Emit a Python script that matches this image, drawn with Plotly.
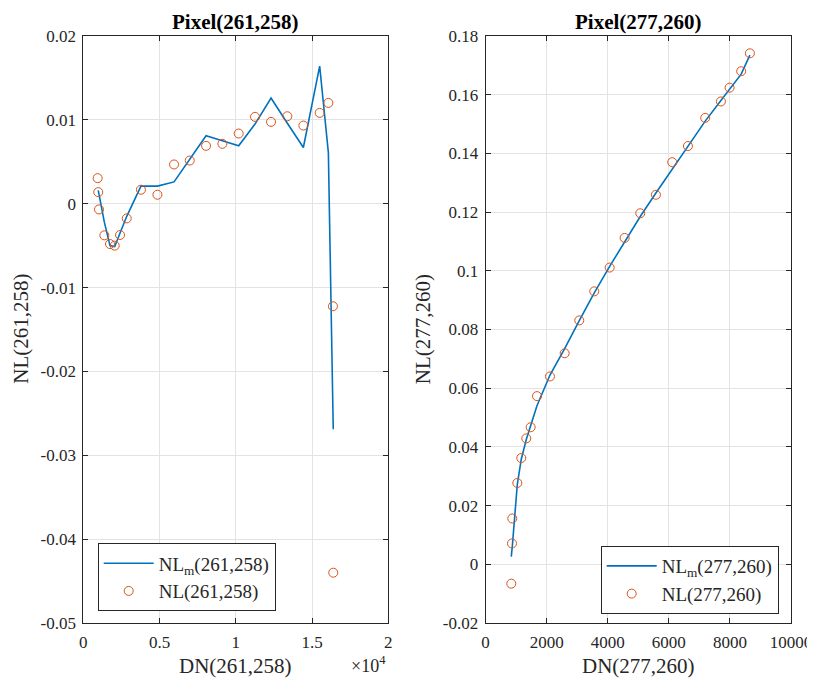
import plotly.graph_objects as go

# ---------------- data ----------------
# Left panel: Pixel(261,258)
dn_left_nl = [940, 980, 1030, 1380, 1750, 2060, 2410, 2850, 3780, 4860, 5950, 6980,
              8050, 9120, 10190, 11260, 12310, 13380, 14430, 15500, 16070, 16370, 16390]
nl_left = [0.00305, 0.00138, -0.00068, -0.00377, -0.00481, -0.0050, -0.00373, -0.00175,
           0.00167, 0.00107, 0.00468, 0.00515, 0.0069, 0.00714, 0.00837, 0.01036,
           0.00976, 0.01043, 0.00932, 0.01083, 0.01202, -0.01223, -0.0440]
dn_left_m = [980, 1380, 1750, 2060, 2410, 2850, 3780, 4860, 5950, 6980, 8050, 9120,
             10190, 11260, 12310, 13380, 14430, 15500, 16070, 16390]
nlm_left = [0.0016, -0.0022, -0.0050, -0.0051, -0.0035, -0.0015, 0.0021, 0.0021,
            0.0026, 0.0053, 0.0081, 0.0075, 0.0069, 0.0095, 0.0126, 0.0096, 0.0067,
            0.0164, 0.0061, -0.0269]

# Right panel: Pixel(277,260)
dn_right = [841, 864, 874, 1038, 1168, 1332, 1476, 1682, 2108, 2589, 3067, 3558, 4062,
            4553, 5064, 5577, 6111, 6625, 7191, 7705, 7989, 8369, 8654]
nl_right = [-0.0066, 0.0071, 0.0156, 0.0277, 0.0362, 0.0429, 0.0467, 0.0573, 0.0640,
            0.0719, 0.0831, 0.0930, 0.1011, 0.1112, 0.1196, 0.1259, 0.1370, 0.1425,
            0.1521, 0.1577, 0.1624, 0.1680, 0.1741]
nlm_right = [0.0026, 0.0050, 0.0060, 0.0272, 0.0358, 0.0425, 0.0470, 0.0540, 0.0645,
             0.0735, 0.0830, 0.0925, 0.1015, 0.1100, 0.1185, 0.1265, 0.1345, 0.1425,
             0.1510, 0.1580, 0.1620, 0.1670, 0.1735]

# tick labels
left_xticks = [0, 5000, 10000, 15000, 20000]
left_xticktext = ["0", "0.5", "1", "1.5", "2"]
left_yticks = [0.02, 0.01, 0, -0.01, -0.02, -0.03, -0.04, -0.05]
left_yticktext = ["0.02", "0.01", "0", "-0.01", "-0.02", "-0.03", "-0.04", "-0.05"]
right_xticks = [0, 2000, 4000, 6000, 8000, 10000]
right_xticktext = ["0", "2000", "4000", "6000", "8000", "10000"]
right_yticks = [-0.02, 0, 0.02, 0.04, 0.06, 0.08, 0.1, 0.12, 0.14, 0.16, 0.18]
right_yticktext = ["-0.02", "0", "0.02", "0.04", "0.06", "0.08", "0.1", "0.12", "0.14", "0.16", "0.18"]

# ---------------- style ----------------
FONT = "Liberation Serif"
AX = "#262626"
GRID = "#e3e3e3"
BLUE = "#0072BD"
ORANGE = "#D95319"
OFF = 8                      # page body margin
W, H = 815 - OFF, 678 - OFF
MT = 35.5 - OFF
MB = H - (623 - OFF)
PH = H - MT - MB


def px(x):                    # reference-screen x -> paper fraction
    return (x - OFF) / W


def py(y):                    # reference-screen y -> paper fraction
    return (H - MB - (y - OFF)) / PH


dom_left = [px(83.3), px(388.3)]
dom_right = [px(485.6), px(791.0)]

fig = go.Figure()
fig.add_trace(go.Scatter(x=dn_left_m, y=nlm_left, mode="lines",
                         line=dict(color=BLUE, width=1.6),
                         name="NL<sub>m</sub>(261,258)", xaxis="x", yaxis="y", legend="legend"))
fig.add_trace(go.Scatter(x=dn_left_nl, y=nl_left, mode="markers",
                         marker=dict(symbol="circle-open", size=9, color=ORANGE, line=dict(width=1)),
                         name="NL(261,258)", xaxis="x", yaxis="y", legend="legend"))
fig.add_trace(go.Scatter(x=dn_right, y=nlm_right, mode="lines",
                         line=dict(color=BLUE, width=1.6),
                         name="NL<sub>m</sub>(277,260)", xaxis="x2", yaxis="y2", legend="legend2"))
fig.add_trace(go.Scatter(x=dn_right, y=nl_right, mode="markers",
                         marker=dict(symbol="circle-open", size=9, color=ORANGE, line=dict(width=1)),
                         name="NL(277,260)", xaxis="x2", yaxis="y2", legend="legend2"))

axcommon = dict(showline=True, linecolor=AX, linewidth=1, mirror="ticks", ticks="inside",
                ticklen=5, tickcolor=AX, showgrid=True, gridcolor=GRID, gridwidth=1,
                zeroline=False, automargin=False,
                tickfont=dict(family=FONT, size=17, color=AX))

fig.update_layout(
    width=W, height=H, margin=dict(l=0, r=0, t=MT, b=MB, pad=0, autoexpand=False),
    font=dict(family=FONT, color=AX),
    paper_bgcolor="white", plot_bgcolor="white",
    xaxis=dict(domain=dom_left, range=[0, 20000], tickvals=left_xticks, ticktext=left_xticktext,
               anchor="y", ticklabelstandoff=4, **axcommon),
    yaxis=dict(domain=[0, 1], range=[-0.05, 0.02], tickvals=left_yticks, ticktext=left_yticktext,
               anchor="x", ticklabelstandoff=3, **axcommon),
    xaxis2=dict(domain=dom_right, range=[0, 10000], tickvals=right_xticks, ticktext=right_xticktext,
                anchor="y2", ticklabelstandoff=4, **axcommon),
    yaxis2=dict(domain=[0, 1], range=[-0.02, 0.18], tickvals=right_yticks, ticktext=right_yticktext,
                anchor="x2", ticklabelstandoff=3, **axcommon),
    legend=dict(x=px(97.7), y=py(543.3), xanchor="left", yanchor="top",
                bordercolor=AX, borderwidth=1, bgcolor="white", traceorder="normal",
                itemwidth=50, font=dict(family=FONT, size=19, color=AX), tracegroupgap=0),
    legend2=dict(x=px(600.7), y=py(546), xanchor="left", yanchor="top",
                 bordercolor=AX, borderwidth=1, bgcolor="white", traceorder="normal",
                 itemwidth=50, font=dict(family=FONT, size=19, color=AX), tracegroupgap=0),
    showlegend=True,
)

ann = []
# titles
for txt, dom in (("Pixel(261,258)", dom_left), ("Pixel(277,260)", dom_right)):
    ann.append(dict(text="<b>%s</b>" % txt, x=sum(dom) / 2, y=py(21), xref="paper", yref="paper",
                    xanchor="center", yanchor="middle", showarrow=False,
                    font=dict(family=FONT, size=21, color="black")))
# x labels
for txt, dom in (("DN(261,258)", dom_left), ("DN(277,260)", dom_right)):
    ann.append(dict(text=txt, x=sum(dom) / 2, y=py(666), xref="paper", yref="paper",
                    xanchor="center", yanchor="middle", showarrow=False,
                    font=dict(family=FONT, size=21, color=AX)))
# y labels
for txt, xx in (("NL(261,258)", 21.5), ("NL(277,260)", 423)):
    ann.append(dict(text=txt, x=px(xx), y=py(329), xref="paper", yref="paper", textangle=-90,
                    xanchor="center", yanchor="middle", showarrow=False,
                    font=dict(family=FONT, size=21, color=AX)))
# exponent
ann.append(dict(text="×10<sup>4</sup>", x=dom_left[1], y=py(665), xref="paper", yref="paper",
                xanchor="right", yanchor="middle", showarrow=False,
                font=dict(family=FONT, size=18, color=AX)))
fig.update_layout(annotations=ann)

fig.write_html("out.html", default_width="%dpx" % W, default_height="%dpx" % H)
